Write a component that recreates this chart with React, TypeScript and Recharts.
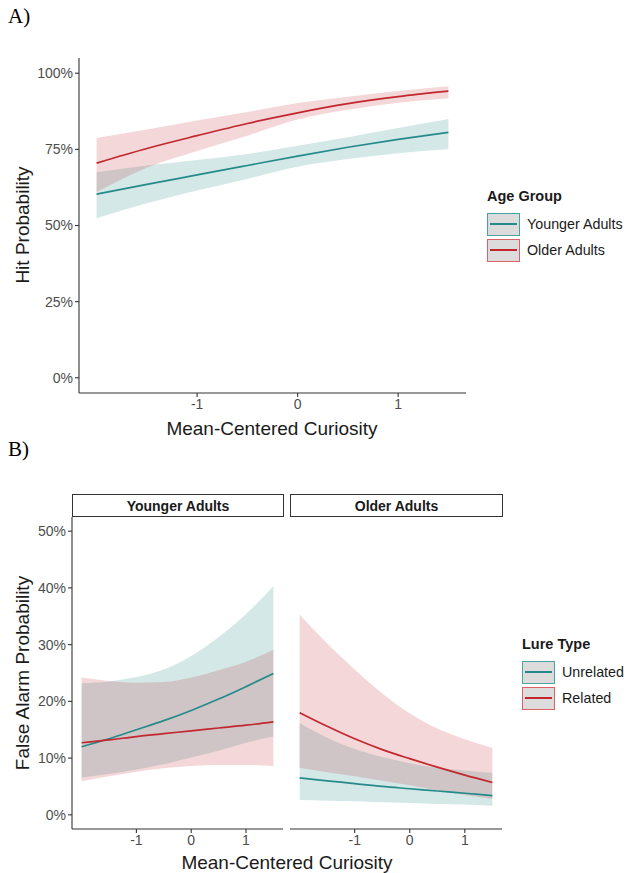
import React from "react"
import { Area, ComposedChart, Line, XAxis, YAxis } from "recharts"

const FONT = "'Liberation Sans', Arial, Helvetica, sans-serif"
const TEAL = "#268a8a"
const RED = "#c1272d"

const curiosity = [-2, -1.5, -1, -0.5, 0, 0.5, 1, 1.5]

// A) hit probability, %
const hitYounger = [60.3, 63.5, 66.6, 69.7, 72.8, 75.7, 78.3, 80.6]
const hitYoungerLo = [52.4, 57.3, 61.5, 65.3, 69.3, 71.8, 73.7, 75]
const hitYoungerHi = [67.5, 69.7, 71.5, 73.5, 76.2, 79, 82, 85]
const hitOlder = [70.5, 75.3, 79.5, 83.5, 87, 90, 92.3, 94.1]
const hitOlderLo = [61, 69, 74.5, 79.5, 84.8, 88, 90.3, 91.8]
const hitOlderHi = [78.7, 81.5, 84.5, 87.3, 90.2, 92.3, 94.2, 95.7]

// B) false alarm probability, %, younger adults facet
const faYoungUnrel = [12, 13.4, 15, 16.6, 18.4, 20.4, 22.6, 24.9]
const faYoungUnrelLo = [6.6, 7.2, 8, 8.9, 10.1, 11.3, 12.7, 13.8]
const faYoungUnrelHi = [23.2, 23.5, 24.3, 25.6, 28, 31.3, 35.4, 40.3]
const faYoungRel = [12.7, 13.2, 13.8, 14.3, 14.8, 15.3, 15.8, 16.4]
const faYoungRelLo = [5.9, 6.8, 7.6, 8.2, 8.6, 8.8, 8.8, 8.6]
const faYoungRelHi = [24.2, 23.6, 23.3, 23.4, 24.2, 25.5, 27, 29.1]

// older adults facet
const faOldUnrel = [6.5, 6, 5.5, 5, 4.6, 4.2, 3.8, 3.4]
const faOldUnrelLo = [2.6, 2.5, 2.4, 2.2, 2.1, 1.9, 1.8, 1.6]
const faOldUnrelHi = [16.2, 13.6, 11.6, 10.2, 9.1, 8.3, 7.8, 7.4]
const faOldRel = [18, 15.6, 13.4, 11.5, 9.9, 8.4, 7, 5.7]
const faOldRelLo = [8.3, 7.5, 6.8, 6, 5.2, 4.3, 3.5, 2.8]
const faOldRelHi = [35.3, 30.2, 25.6, 21.4, 17.9, 15.2, 13.3, 11.8]

const xTicks = [-1, 0, 1]
const hitTicks = [0, 25, 50, 75, 100]
const faTicks = [0, 10, 20, 30, 40, 50]

const rows = (a: number[], aLo: number[], aHi: number[], b: number[], bLo: number[], bHi: number[]) =>
  curiosity.map((x, i) => ({
    x,
    teal: a[i],
    tealBand: [aLo[i], aHi[i]],
    red: b[i],
    redBand: [bLo[i], bHi[i]],
  }))

const hitData = rows(hitYounger, hitYoungerLo, hitYoungerHi, hitOlder, hitOlderLo, hitOlderHi)
const youngData = rows(faYoungUnrel, faYoungUnrelLo, faYoungUnrelHi, faYoungRel, faYoungRelLo, faYoungRelHi)
const oldData = rows(faOldUnrel, faOldUnrelLo, faOldUnrelHi, faOldRel, faOldRelLo, faOldRelHi)

const AXIS = {
  axisLine: { stroke: "#333", strokeWidth: 1.1 },
  tickLine: { stroke: "#333", strokeWidth: 1.1 },
  tickSize: 4,
  tick: { fill: "#4d4d4d", fontSize: 14, fontFamily: FONT },
} as const

const pct = (v: number) => `${v}%`

function Series() {
  return [
    <Area key="tb" type="monotone" dataKey="tealBand" stroke="none" fill={TEAL} fillOpacity={0.2} isAnimationActive={false} />,
    <Area key="rb" type="monotone" dataKey="redBand" stroke="none" fill={RED} fillOpacity={0.18} isAnimationActive={false} />,
    <Line key="tl" type="monotone" dataKey="teal" stroke={TEAL} strokeWidth={1.7} dot={false} isAnimationActive={false} />,
    <Line key="rl" type="monotone" dataKey="red" stroke={RED} strokeWidth={1.7} dot={false} isAnimationActive={false} />,
  ]
}

function Legend({ title, items, left, top }: { title: string; items: string[]; left: number; top: number }) {
  const colors = [TEAL, RED]
  const borders = ["#4aa3a3", "#dd5f68"]
  return (
    <div style={{ position: "absolute", left, top, fontFamily: FONT, color: "#1a1a1a" }}>
      <div style={{ fontWeight: "bold", fontSize: 14.5, lineHeight: "17px", marginBottom: 6 }}>{title}</div>
      {items.map((t, i) => (
        <div key={t} style={{ display: "flex", alignItems: "center", height: 26 }}>
          <div
            style={{
              width: 31,
              height: 21,
              background: "#dcdcdc",
              border: `1.6px solid ${borders[i]}`,
              display: "flex",
              alignItems: "center",
              justifyContent: "center",
            }}
          >
            <div style={{ width: 27, height: 2, background: colors[i] }} />
          </div>
          <span style={{ fontSize: 14.3, marginLeft: 7 }}>{t}</span>
        </div>
      ))}
    </div>
  )
}

function Strip({ label, left, width }: { label: string; left: number; width: number }) {
  return (
    <div
      style={{
        position: "absolute",
        left,
        top: 494,
        width: width - 2,
        height: 21,
        border: "1.2px solid #333",
        background: "#fff",
        fontFamily: FONT,
        fontWeight: "bold",
        fontSize: 14,
        color: "#1a1a1a",
        display: "flex",
        alignItems: "center",
        justifyContent: "center",
      }}
    >
      {label}
    </div>
  )
}

const abs = (left: number, top: number): React.CSSProperties => ({ position: "absolute", left, top })

export default function App() {
  const xTitle = { fontFamily: FONT, fontSize: 19, lineHeight: "19px", color: "#1a1a1a", whiteSpace: "nowrap" } as const
  return (
    <div style={{ position: "absolute", left: 0, top: 0, width: 628, height: 873, background: "#fff", overflow: "hidden" }}>
      <div style={{ ...abs(8, 4), fontFamily: "'Liberation Serif', 'Times New Roman', serif", fontSize: 21 }}>A)</div>
      <div style={{ ...abs(8, 437), fontFamily: "'Liberation Serif', 'Times New Roman', serif", fontSize: 21 }}>B)</div>

      {/* Panel A */}
      <div style={abs(0, 0)}>
        <ComposedChart width={480} height={440} data={hitData} margin={{ top: 58, right: 14, bottom: 17, left: 0 }}>
          <XAxis dataKey="x" type="number" domain={[-2.175, 1.675]} ticks={xTicks} height={30} tickMargin={2} {...AXIS} />
          <YAxis type="number" domain={[-5, 105]} ticks={hitTicks} tickFormatter={pct} width={79} tickMargin={2} {...AXIS} />
          {Series()}
        </ComposedChart>
      </div>
      <div style={{ ...abs(272, 428), ...xTitle, transform: "translate(-50%, -50%)" }}>Mean-Centered Curiosity</div>
      <div style={{ ...abs(22, 225), ...xTitle, transform: "translate(-50%, -50%) rotate(-90deg)" }}>Hit Probability</div>
      <Legend title="Age Group" items={["Younger Adults", "Older Adults"]} left={487} top={188} />

      {/* Panel B */}
      <Strip label="Younger Adults" left={72} width={212} />
      <Strip label="Older Adults" left={290} width={213} />
      <div style={abs(0, 500)}>
        <ComposedChart width={290} height={360} data={youngData} margin={{ top: 17, right: 7, bottom: 6, left: 0 }}>
          <XAxis dataKey="x" type="number" domain={[-2.175, 1.675]} ticks={xTicks} height={25} tickMargin={2} {...AXIS} />
          <YAxis type="number" domain={[-2.5, 52.5]} ticks={faTicks} tickFormatter={pct} width={72} tickMargin={2} {...AXIS} />
          {Series()}
        </ComposedChart>
      </div>
      <div style={abs(290, 500)}>
        <ComposedChart width={220} height={360} data={oldData} margin={{ top: 17, right: 8, bottom: 6, left: 0 }}>
          <XAxis dataKey="x" type="number" domain={[-2.175, 1.675]} ticks={xTicks} height={25} tickMargin={2} {...AXIS} />
          <YAxis hide type="number" domain={[-2.5, 52.5]} />
          {Series()}
        </ComposedChart>
      </div>
      <div style={{ ...abs(287, 862), ...xTitle, transform: "translate(-50%, -50%)" }}>Mean-Centered Curiosity</div>
      <div style={{ ...abs(22, 673), ...xTitle, transform: "translate(-50%, -50%) rotate(-90deg)" }}>False Alarm Probability</div>
      <Legend title="Lure Type" items={["Unrelated", "Related"]} left={522} top={636} />
    </div>
  )
}
